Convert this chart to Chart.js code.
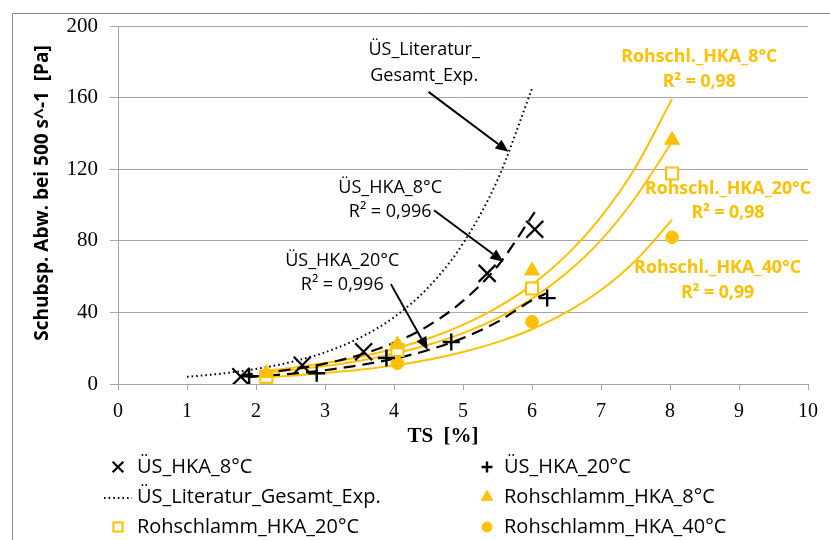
<!DOCTYPE html>
<html>
<head>
<meta charset="utf-8">
<script src="https://cdn.jsdelivr.net/npm/chart.js@4.4.1/dist/chart.umd.min.js"></script>
<style>
  html, body { margin: 0; padding: 0; background: #ffffff; }
  #wrap { position: relative; width: 830px; height: 540px; }
</style>
</head>
<body>
<div id="wrap"><canvas id="chart" width="830" height="540"></canvas></div>
<script>
// Measured shear stress deviation [Pa] against dry solids TS [%]
const usHka8TS   = [1.78, 2.67, 3.56, 5.35, 6.04];
const usHka8Tau  = [4.1, 10.5, 18.0, 61.8, 86.4];
const usHka20TS  = [1.90, 2.88, 3.89, 4.83, 6.22];
const usHka20Tau = [4.3, 6.0, 14.5, 23.5, 48.0];
const rs8TS   = [2.15, 4.05, 6.00, 8.03];
const rs8Tau  = [6.0, 22.0, 63.3, 136.3];
const rs20TS  = [2.15, 4.05, 6.00, 8.03];
const rs20Tau = [4.1, 19.0, 53.4, 117.6];
const rs40TS  = [2.15, 4.05, 6.00, 8.03];
const rs40Tau = [3.2, 11.6, 34.8, 82.0];

// Literature curve and exponential trend lines, sampled along TS
const litTS  = [1, 1.5, 2, 2.5, 3, 3.5, 4, 4.5, 5, 5.5, 6];
const litTau = [4.0, 5.8, 8.4, 12.2, 17.7, 25.7, 37.3, 54.1, 78.5, 114, 165];
const trendUs8TS   = [1.78, 2.5, 3, 3.5, 4, 4.5, 5, 5.5, 6.04];
const trendUs8Tau  = [4.9, 8.1, 11.4, 16.2, 23.0, 32.6, 46.4, 65.8, 96.0];
const trendUs20TS  = [1.9, 2.5, 3, 3.5, 4, 4.5, 5, 5.5, 6, 6.2];
const trendUs20Tau = [4.0, 5.7, 7.7, 10.5, 14.1, 19.0, 25.7, 34.7, 46.8, 50.5];
const trendRsTS    = [2.1, 2.5, 3, 3.5, 4, 4.5, 5, 5.5, 6, 6.5, 7, 7.5, 8.03];
const trendRs8Tau  = [7.3, 9.0, 11.7, 15.1, 19.7, 25.4, 33.0, 42.8, 55.4, 72.0, 93.4, 121.0, 159.3];
const trendRs20Tau = [6.3, 7.7, 10.0, 13.0, 16.9, 21.9, 28.4, 36.8, 47.7, 62.0, 80.4, 104.2, 135.3];
const trendRs40Tau = [3.7, 4.6, 6.1, 7.9, 10.4, 13.6, 17.9, 23.4, 30.6, 40.1, 52.5, 68.9, 91.7];

// Axis ticks
const tsTicks  = [0, 1, 2, 3, 4, 5, 6, 7, 8, 9, 10];
const tauTicks = [0, 40, 80, 120, 160, 200];

const GOLD = '#FFC000';
const INK = '#000000';
const GRID = '#a6a6a6';

const pts = (xs, ys) => xs.map((x, i) => ({ x, y: ys[i] }));

const markerSet = (label, xs, ys, style, radius, fill, stroke, bw) => ({
  label, data: pts(xs, ys), showLine: false, order: 1,
  pointStyle: style, pointRadius: radius, pointHoverRadius: radius,
  pointBackgroundColor: fill, pointBorderColor: stroke, pointBorderWidth: bw,
  backgroundColor: fill, borderColor: stroke
});
const curveSet = (label, xs, ys, color, width, dash) => ({
  label, data: pts(xs, ys), showLine: true, order: 2,
  borderColor: color, borderWidth: width, borderDash: dash,
  pointRadius: 0, pointHoverRadius: 0, tension: 0.4, cubicInterpolationMode: 'monotone', fill: false
});

const datasets = [
  markerSet('ÜS_HKA_8°C', usHka8TS, usHka8Tau, 'crossRot', 12, INK, INK, 2.2),
  markerSet('ÜS_HKA_20°C', usHka20TS, usHka20Tau, 'cross', 8.5, INK, INK, 2.4),
  curveSet('ÜS_Literatur_Gesamt_Exp.', litTS, litTau, INK, 2, [1.6, 3]),
  markerSet('Rohschlamm_HKA_8°C', rs8TS, rs8Tau, 'triangle', 8.5, GOLD, GOLD, 1),
  markerSet('Rohschlamm_HKA_20°C', rs20TS, rs20Tau, 'rect', 8.5, '#ffffff', GOLD, 2),
  markerSet('Rohschlamm_HKA_40°C', rs40TS, rs40Tau, 'circle', 6.3, GOLD, GOLD, 1),
  curveSet('Trend ÜS_HKA_8°C', trendUs8TS, trendUs8Tau, INK, 2.2, [12, 7]),
  curveSet('Trend ÜS_HKA_20°C', trendUs20TS, trendUs20Tau, INK, 2.2, [12, 7]),
  curveSet('Trend Rohschl._HKA_8°C', trendRsTS, trendRs8Tau, GOLD, 2, []),
  curveSet('Trend Rohschl._HKA_20°C', trendRsTS, trendRs20Tau, GOLD, 2, []),
  curveSet('Trend Rohschl._HKA_40°C', trendRsTS, trendRs40Tau, GOLD, 2, [])
];

// Trend line labels (anchored in data coordinates) and their leader arrows
const notes = [
  { ts: 4.437, tau: [186.4, 171.9], lines: ['ÜS_Literatur_', 'Gesamt_Exp.'], widths: [113, 108], color: INK, bold: false },
  { ts: 3.945, tau: [109.4, 96.0], lines: ['ÜS_HKA_8°C', 'R² = 0,996'], widths: [105, 84], color: INK, bold: false },
  { ts: 3.25,  tau: [68.7, 55.3],  lines: ['ÜS_HKA_20°C', 'R² = 0,996'], widths: [115, 83], color: INK, bold: false },
  { ts: 8.425, tau: [182.7, 168.7], lines: ['Rohschl._HKA_8°C', 'R² = 0,98'], widths: [156, 73], color: GOLD, bold: true },
  { ts: 8.84,  tau: [108.8, 95.4], lines: ['Rohschl._HKA_20°C', 'R² = 0,98'], widths: [166, 73], color: GOLD, bold: true },
  { ts: 8.69,  tau: [64.6, 50.8],  lines: ['Rohschl._HKA_40°C', 'R² = 0,99'], widths: [167, 73], color: GOLD, bold: true }
];
const arrows = [
  { from: [4.50, 163.2], to: [5.66, 129.7] },
  { from: [4.58, 97.1],  to: [5.585, 68.3] },
  { from: [3.955, 55.8], to: [4.49, 19.0] }
];

// Legend grid: [dataset index, column, row]
const legendCells = [[0, 0, 0], [1, 1, 0], [2, 0, 1], [3, 1, 1], [4, 0, 2], [5, 1, 2]];
const legendWidths = [117, 129, 247, 211, 222, 224];

function drawText(ctx, text, x, y, font, color, maxW, align) {
  ctx.font = font;
  ctx.fillStyle = color;
  ctx.textAlign = align || 'center';
  ctx.textBaseline = 'middle';
  if (maxW) ctx.fillText(text, x, y, maxW); else ctx.fillText(text, x, y);
}

function drawArrow(ctx, x1, y1, x2, y2) {
  const a = Math.atan2(y2 - y1, x2 - x1);
  const head = 13, half = 5.5;
  const bx = x2 - head * Math.cos(a), by = y2 - head * Math.sin(a);
  ctx.beginPath();
  ctx.moveTo(x1, y1);
  ctx.lineTo(bx, by);
  ctx.stroke();
  ctx.beginPath();
  ctx.moveTo(x2, y2);
  ctx.lineTo(bx - half * Math.sin(a), by + half * Math.cos(a));
  ctx.lineTo(bx + half * Math.sin(a), by - half * Math.cos(a));
  ctx.closePath();
  ctx.fill();
}

const decorations = {
  id: 'decorations',
  beforeDraw(chart) {
    const ctx = chart.ctx;
    ctx.save();
    ctx.strokeStyle = '#8c8c8c';
    ctx.lineWidth = 1;
    ctx.beginPath();
    ctx.moveTo(12.5, 540);
    ctx.lineTo(12.5, 13.5);
    ctx.lineTo(830, 13.5);
    ctx.stroke();
    ctx.restore();
  },
  afterDatasetsDraw(chart) {
    const ctx = chart.ctx;
    const xs = chart.scales.x, ys = chart.scales.y;
    ctx.save();
    ctx.strokeStyle = INK;
    ctx.fillStyle = INK;
    ctx.lineWidth = 2;
    arrows.forEach(a => drawArrow(ctx,
      xs.getPixelForValue(a.from[0]), ys.getPixelForValue(a.from[1]),
      xs.getPixelForValue(a.to[0]), ys.getPixelForValue(a.to[1])));
    notes.forEach(n => {
      const cx = xs.getPixelForValue(n.ts);
      n.lines.forEach((t, i) => {
        const font = (n.bold ? 'bold ' : '') + '18px "Open Sans"';
        drawText(ctx, t, cx, ys.getPixelForValue(n.tau[i]), font, n.color, n.widths[i]);
      });
    });
    ctx.restore();
  },
  afterDraw(chart) {
    const ctx = chart.ctx;
    ctx.save();
    // axis titles
    drawText(ctx, 'TS  [%]', 443, 437, 'bold 21px "Liberation Serif"', INK);
    ctx.translate(43, 193);
    ctx.rotate(-Math.PI / 2);
    drawText(ctx, 'Schubsp. Abw. bei 500 s^-1  [Pa]', 0, 0, 'bold 19px "Open Sans"', INK, 300);
    ctx.setTransform(1, 0, 0, 1, 0, 0);
    // legend
    const colMarker = [118, 487], colText = [137, 504], rowY = [467, 497, 527];
    legendCells.forEach(([di, col, row], k) => {
      const ds = chart.data.datasets[di];
      const mx = colMarker[col], my = rowY[row];
      ctx.save();
      if (ds.showLine) {
        ctx.strokeStyle = ds.borderColor;
        ctx.lineWidth = 2;
        ctx.setLineDash(ds.borderDash || []);
        ctx.beginPath();
        ctx.moveTo(mx - 14, my + 1);
        ctx.lineTo(mx + 14, my + 1);
        ctx.stroke();
      } else {
        ctx.fillStyle = ds.pointBackgroundColor;
        ctx.strokeStyle = ds.pointBorderColor;
        ctx.lineWidth = ds.pointBorderWidth;
        const r = ds.pointStyle === 'crossRot' ? 7.5 : ds.pointStyle === 'cross' ? 5.5 :
                  ds.pointStyle === 'circle' ? 5 : 6.5;
        Chart.helpers.drawPoint(ctx, { pointStyle: ds.pointStyle, radius: r, rotation: 0, borderWidth: ds.pointBorderWidth }, mx, my);
      }
      ctx.restore();
      drawText(ctx, ds.label, colText[col], my, '20px "Open Sans"', INK, legendWidths[k], 'left');
    });
    ctx.restore();
  }
};

new Chart(document.getElementById('chart'), {
  type: 'scatter',
  data: { datasets },
  options: {
    responsive: false,
    animation: false,
    events: [],
    layout: { padding: { left: 0, right: 22, top: 26, bottom: 0 } },
    plugins: { legend: { display: false }, tooltip: { enabled: false } },
    scales: {
      x: {
        type: 'linear', min: 0, max: 10,
        afterBuildTicks: s => { s.ticks = tsTicks.map(v => ({ value: v })); },
        afterFit: s => { s.height = 156; },
        grid: { drawOnChartArea: false, drawTicks: true, tickLength: 6, color: GRID },
        border: { color: GRID, width: 1 },
        ticks: { color: INK, padding: 10, font: { family: '"Liberation Serif"', size: 20 } }
      },
      y: {
        type: 'linear', min: 0, max: 200,
        afterBuildTicks: s => { s.ticks = tauTicks.map(v => ({ value: v })); },
        afterFit: s => { s.width = 118; },
        grid: { color: GRID, drawTicks: true, tickLength: 8 },
        border: { color: GRID, width: 1 },
        ticks: { color: INK, padding: 12, font: { family: '"Liberation Serif"', size: 21 } }
      }
    }
  },
  plugins: [decorations]
});
</script>
</body>
</html>
